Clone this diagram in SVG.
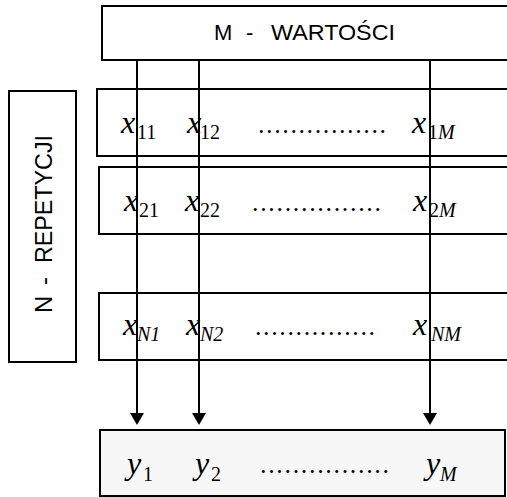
<svg xmlns="http://www.w3.org/2000/svg" width="507" height="497" viewBox="0 0 507 497">
<style>
.box{fill:#ffffff;stroke:#000;stroke-width:2}
.lbl{font-family:"Liberation Sans",Arial,sans-serif;fill:#000}
.v{font-family:"Liberation Serif","Times New Roman",serif;font-style:italic;font-size:32px;fill:#000}
.s{font-family:"Liberation Serif","Times New Roman",serif;font-size:20px;fill:#000}
.si{font-family:"Liberation Serif","Times New Roman",serif;font-style:italic;font-size:20px;fill:#000}
.dots{font-family:"Liberation Serif","Times New Roman",serif;font-size:26px;fill:#000}
.conn{stroke:#000;stroke-width:2;fill:none}
</style>
<g id="m-wartosci">
<rect class="box" x="102" y="6" width="410" height="54"/>
<text class="lbl" font-size="22" x="214" y="40">M</text>
<text class="lbl" font-size="22" x="246" y="40">-</text>
<text class="lbl" font-size="22" x="271" y="40" textLength="124" lengthAdjust="spacingAndGlyphs">WARTOŚCI</text>
</g>
<g id="n-repetycji">
<rect class="box" x="9" y="91" width="67" height="271"/>
<g transform="translate(52,313) rotate(-90)">
<text class="lbl" font-size="24" x="0" y="0">N</text>
<text class="lbl" font-size="24" x="28" y="0">-</text>
<text class="lbl" font-size="24" x="50" y="0" textLength="128" lengthAdjust="spacingAndGlyphs">REPETYCJI</text>
</g>
</g>
<g id="row1">
<rect class="box" x="97" y="89" width="420" height="67"/>
<text class="v" x="121" y="133">x</text><text class="s" x="137" y="139">11</text>
<text class="v" x="187" y="133">x</text><text class="s" x="200" y="139">12</text>
<text class="dots" x="258" y="133" textLength="128" lengthAdjust="spacing">................</text>
<text class="v" x="412" y="133">x</text><text class="s" x="428" y="139">1<tspan class="si">M</tspan></text>
</g>
<g id="row2">
<rect class="box" x="99" y="167" width="420" height="67"/>
<text class="v" x="124" y="211">x</text><text class="s" x="139" y="217">21</text>
<text class="v" x="185" y="211">x</text><text class="s" x="200" y="217">22</text>
<text class="dots" x="252" y="211" textLength="129" lengthAdjust="spacing">................</text>
<text class="v" x="413" y="211">x</text><text class="s" x="429" y="217">2<tspan class="si">M</tspan></text>
</g>
<g id="rowN">
<rect class="box" x="99" y="293" width="420" height="67"/>
<text class="v" x="123" y="335">x</text><text class="si" x="137" y="341">N<tspan class="s">1</tspan></text>
<text class="v" x="186" y="335">x</text><text class="si" x="200" y="341">N<tspan class="s">2</tspan></text>
<text class="dots" x="255" y="335" textLength="120" lengthAdjust="spacing">...............</text>
<text class="v" x="413" y="335">x</text><text class="si" x="431" y="341">NM</text>
</g>
<g id="result">
<rect x="100" y="430" width="405" height="66" fill="#f7f7f7" stroke="#000" stroke-width="2"/>
<text class="v" x="127" y="474">y</text><text class="s" x="143" y="481">1</text>
<text class="v" x="195" y="474">y</text><text class="s" x="211" y="481">2</text>
<text class="dots" x="260" y="473" textLength="129" lengthAdjust="spacing">................</text>
<text class="v" x="426" y="474">y</text><text class="si" x="440" y="481">M</text>
</g>
<g id="connectors">
<line class="conn" x1="137" y1="60" x2="137" y2="413"/>
<line class="conn" x1="199" y1="60" x2="199" y2="413"/>
<line class="conn" x1="430" y1="60" x2="430" y2="413"/>
<path d="M130,413 L144,413 L137,425 Z" fill="#000"/>
<path d="M192,413 L206,413 L199,425 Z" fill="#000"/>
<path d="M423,413 L437,413 L430,425 Z" fill="#000"/>
</g>
</svg>
